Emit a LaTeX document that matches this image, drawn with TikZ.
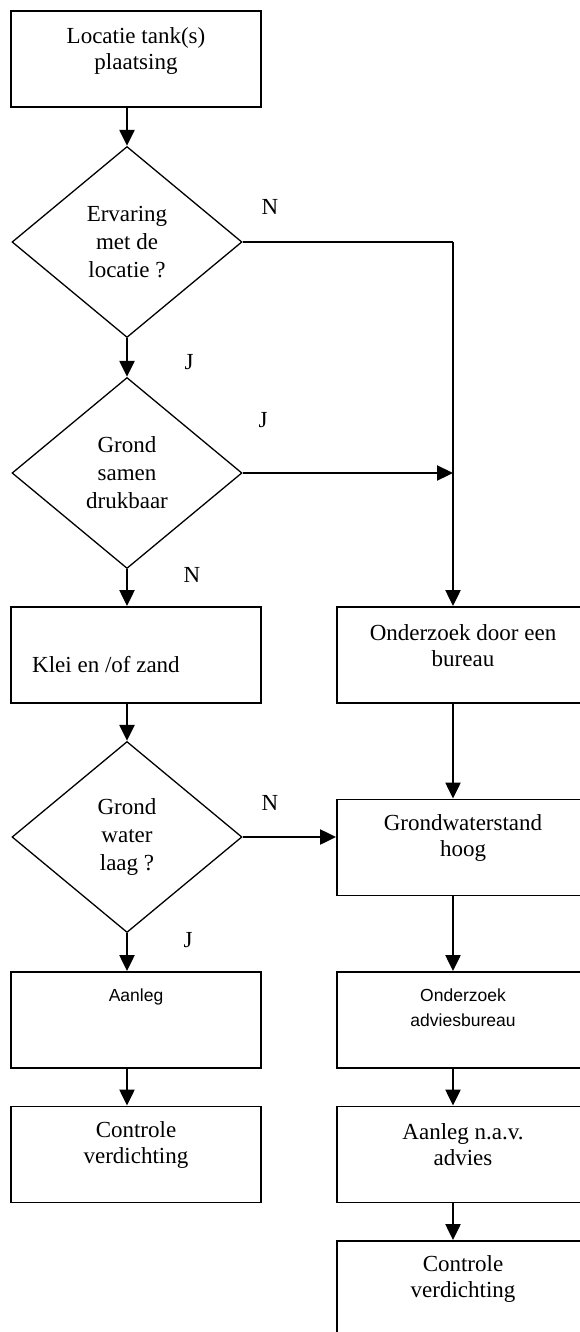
\documentclass[tikz,border=0pt]{standalone}
\usepackage{fontspec}
\setmainfont{Liberation Serif}
\newfontfamily\arialfont{Liberation Sans}
\usetikzlibrary{shapes.geometric,arrows.meta}
\begin{document}
\begin{tikzpicture}[x=1pt,y=-1pt,
  boxnode/.style={draw,line width=1.9pt,rectangle,inner sep=0pt,minimum width=250pt,minimum height=96pt},
  rboxnode/.style={boxnode,minimum width=252pt},
  decision/.style={draw,line width=1.3pt,diamond,inner sep=0pt,minimum width=230pt,minimum height=191pt,align=center,font=\fontsize{23}{28}\selectfont},
  txt/.style={align=center,inner sep=0pt,font=\fontsize{23}{26}\selectfont},
  sanstxt/.style={align=center,inner sep=0pt,font=\arialfont\fontsize{17.5}{25}\selectfont},
  lbl/.style={inner sep=0pt,font=\fontsize{23}{26}\selectfont},
  flow/.style={line width=2.3pt,-{Triangle[length=16pt,width=15pt]}},
  plainline/.style={line width=2.3pt}]
\useasboundingbox (0,0) rectangle (580,1332);
\clip (0,0) rectangle (580,1332);

% left column
\node[boxnode] (b1) at (136,59) {};
\node[txt] (t1) at (136,51) {Locatie tank(s)\\plaatsing};
\node[decision] (d1) at (127,242) {Ervaring\\met de\\locatie ?};
\node[decision] (d2) at (127,473) {Grond\\samen\\drukbaar};
\node[boxnode] (klei) at (136,655) {};
\node[txt,anchor=west] (tklei) at (32,665) {Klei en /of zand};
\node[decision] (d3) at (127,837) {Grond\\water\\laag ?};
\node[boxnode] (aan) at (136,1020) {};
\node[sanstxt] (taan) at (136,997) {Aanleg};
\node[boxnode] (cl) at (136,1154.5) {};
\node[txt] (tcl) at (136,1145) {Controle\\verdichting};

% right column
\node[rboxnode] (ob) at (463,655) {};
\node[txt] (tob) at (463,646) {Onderzoek door een\\bureau};
\node[rboxnode] (gw) at (463,847.5) {};
\node[txt] (tgw) at (463,838) {Grondwaterstand\\hoog};
\node[rboxnode] (oa) at (463,1020) {};
\node[sanstxt] (toa) at (463,1008) {Onderzoek\\adviesbureau};
\node[rboxnode] (an) at (463,1154.5) {};
\node[txt] (tan) at (463,1145) {Aanleg n.a.v.\\advies};
\node[rboxnode] (cr) at (463,1289) {};
\node[txt] (tcr) at (463,1279) {Controle\\verdichting};

% junctions
\coordinate (j1) at (453,242);
\coordinate (j2) at (453,473);

% connectors
\draw[flow] (b1.south -| d1.north) -- (d1.north);
\draw[flow] (d1.south) -- (d2.north);
\draw[plainline] (d1.east) -- (j1);
\draw[flow] (j1) -- (j1 |- ob.north);
\draw[flow] (d2.east) -- (j2);
\draw[flow] (d2.south) -- (d2.south |- klei.north);
\draw[flow] (klei.south -| d3.north) -- (d3.north);
\draw[flow] (d3.east) -- (d3.east -| gw.west);
\draw[flow] (d3.south) -- (d3.south |- aan.north);
\draw[flow] (aan.south -| d3.south) -- (cl.north -| d3.south);
\draw[flow] (ob.south -| j1) -- (gw.north -| j1);
\draw[flow] (gw.south -| j1) -- (oa.north -| j1);
\draw[flow] (oa.south -| j1) -- (an.north -| j1);
\draw[flow] (an.south -| j1) -- (cr.north -| j1);

% labels
\node[lbl] (n1) at (270,207) {N};
\node[lbl] (jl1) at (189,362) {J};
\node[lbl] (jl2) at (263,420) {J};
\node[lbl] (n2) at (192,575) {N};
\node[lbl] (n3) at (270,803) {N};
\node[lbl] (jl3) at (188,940) {J};
\end{tikzpicture}
\end{document}
